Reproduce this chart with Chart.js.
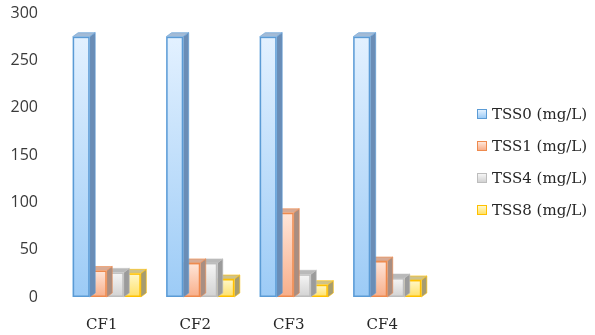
<!DOCTYPE html>
<html>
<head>
<meta charset="utf-8">
<script src="https://cdn.jsdelivr.net/npm/chart.js@4/dist/chart.umd.min.js"></script>
<style>
  html, body { margin: 0; padding: 0; background: #fff; }
  #wrap { position: relative; width: 595px; height: 335px; }
  #legend { position: absolute; left: 477px; top: 98px; font-family: "DejaVu Serif", serif; font-size: 15px; color: #262626; }
  .item { display: flex; align-items: center; height: 32px; white-space: nowrap; }
  .box { width: 10px; height: 10px; margin-right: 5px; box-sizing: border-box; border: 1px solid; }
</style>
</head>
<body>
<div id="wrap">
  <canvas id="chart" width="595" height="335"></canvas>
  <div id="legend"></div>
</div>
<script>
// data
const categories = ['CF1', 'CF2', 'CF3', 'CF4'];
const seriesNames = ['TSS0 (mg/L)', 'TSS1 (mg/L)', 'TSS4 (mg/L)', 'TSS8 (mg/L)'];
const tss0 = [275, 275, 275, 275];
const tss1 = [28, 36, 89, 38];
const tss4 = [26, 36, 24, 20];
const tss8 = [25, 19, 13, 18];
const yMax = 300;
const yStep = 50;

// look of each series: front gradient, border, side and top faces
const styles = [
    { top: '#e3f1ff', bottom: '#9ccbf6', border: '#5b9bd5', side: '#6a8db6', lid: '#a3bbd6' },
    { top: '#ffe6da', bottom: '#f8ae89', border: '#ee8a4e', side: '#a88e82', lid: '#d8ab95' },
    { top: '#f6f6f6', bottom: '#d2d2d2', border: '#bdbdbd', side: '#9b9b9b', lid: '#b9b9b9' },
    { top: '#fff8cc', bottom: '#ffe066', border: '#ffc000', side: '#a69c70', lid: '#cfc28a' }
];
const depthX = 5.5, depthY = 4;

const bar3d = {
    id: 'bar3d',
    afterDatasetDraw(chart, args) {
        const ctx = chart.ctx;
        const st = styles[args.index];
        args.meta.data.forEach(bar => {
            const { x, y, base, width } = bar.getProps(['x', 'y', 'base', 'width'], true);
            const l = x - width / 2, r = x + width / 2;
            ctx.save();
            ctx.lineWidth = 1;
            ctx.strokeStyle = st.border;
            // side face
            ctx.beginPath();
            ctx.moveTo(r, y);
            ctx.lineTo(r + depthX, y - depthY);
            ctx.lineTo(r + depthX, base - depthY);
            ctx.lineTo(r, base);
            ctx.closePath();
            ctx.fillStyle = st.side;
            ctx.fill();
            ctx.globalAlpha = 0.6;
            ctx.stroke();
            ctx.globalAlpha = 1;
            // top face
            ctx.beginPath();
            ctx.moveTo(l, y);
            ctx.lineTo(l + depthX, y - depthY);
            ctx.lineTo(r + depthX, y - depthY);
            ctx.lineTo(r, y);
            ctx.closePath();
            ctx.fillStyle = st.lid;
            ctx.fill();
            ctx.globalAlpha = 0.6;
            ctx.stroke();
            ctx.globalAlpha = 1;
            // front face
            const g = ctx.createLinearGradient(0, y, 0, base);
            g.addColorStop(0, st.top);
            g.addColorStop(1, st.bottom);
            ctx.fillStyle = g;
            ctx.fillRect(l, y, width, base - y);
            ctx.lineWidth = 1.5;
            ctx.strokeRect(l + 0.75, y + 0.75, width - 1.5, base - y - 1.5);
            ctx.restore();
        });
    }
};

const values = [tss0, tss1, tss4, tss8];

new Chart(document.getElementById('chart'), {
    type: 'bar',
    data: {
        labels: categories,
        datasets: values.map((v, i) => ({
            label: seriesNames[i],
            data: v,
            backgroundColor: 'rgba(0,0,0,0)',
            borderWidth: 0,
            barPercentage: 1,
            categoryPercentage: 0.729
        }))
    },
    options: {
        responsive: false,
        animation: false,
        layout: { padding: { top: 13, right: 161, bottom: 0, left: 0 } },
        plugins: { legend: { display: false }, tooltip: { enabled: false } },
        scales: {
            x: {
                grid: { display: false, drawTicks: false },
                border: { display: false },
                ticks: {
                    color: '#262626',
                    font: { family: 'DejaVu Serif', size: 15 },
                    padding: 19,
                    labelOffset: -5
                },
                afterFit(axis) { axis.height = 38; }
            },
            y: {
                min: 0,
                max: yMax,
                grid: { display: false, drawTicks: false },
                border: { display: false },
                ticks: {
                    stepSize: yStep,
                    color: '#3a3a3a',
                    font: { family: 'Open Sans', size: 16 },
                    padding: 22
                },
                afterFit(axis) {
                    axis.width = 60;
                    axis.paddingTop = 0;
                    axis.paddingBottom = 0;
                }
            }
        }
    },
    plugins: [bar3d]
});

// legend in the plot's right margin
const legend = document.getElementById('legend');
seriesNames.forEach((name, i) => {
    const row = document.createElement('div');
    row.className = 'item';
    row.innerHTML = `<span class="box" style="background: linear-gradient(${styles[i].top}, ${styles[i].bottom}); border-color: ${styles[i].border};"></span>${name}`;
    legend.appendChild(row);
});
</script>
</body>
</html>
